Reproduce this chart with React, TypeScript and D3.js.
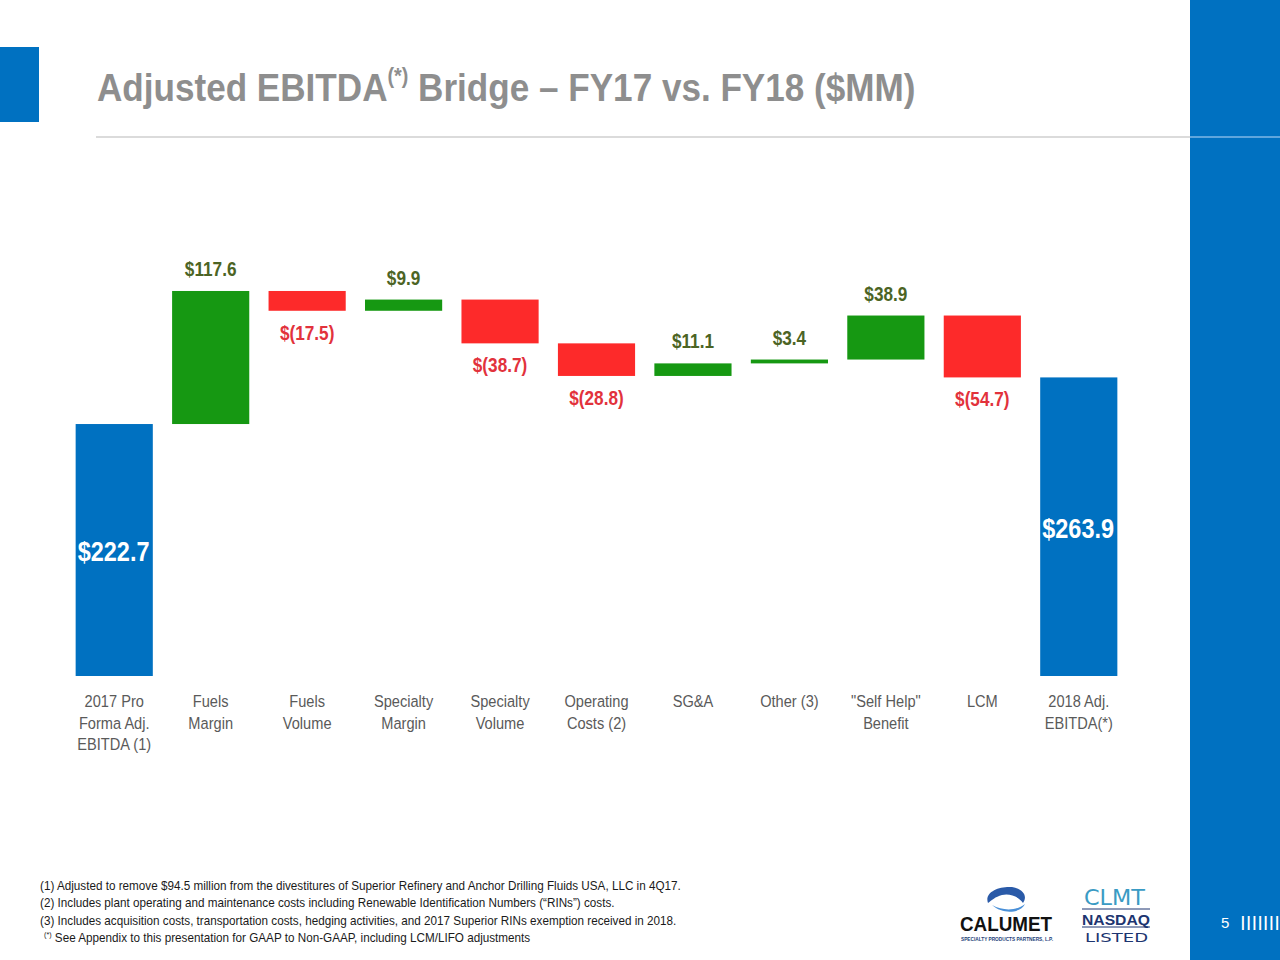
import React from "react";
import * as d3 from "d3";

const categories = [
  ["2017 Pro", "Forma Adj.", "EBITDA (1)"],
  ["Fuels", "Margin"],
  ["Fuels", "Volume"],
  ["Specialty", "Margin"],
  ["Specialty", "Volume"],
  ["Operating", "Costs (2)"],
  ["SG&A"],
  ["Other (3)"],
  ["\"Self Help\"", "Benefit"],
  ["LCM"],
  ["2018 Adj.", "EBITDA(*)"],
];
const values = [222.7, 117.6, -17.5, 9.9, -38.7, -28.8, 11.1, 3.4, 38.9, -54.7, 263.9];
const kinds = ["total", "delta", "delta", "delta", "delta", "delta", "delta", "delta", "delta", "delta", "total"];
const valueLabels = ["$222.7", "$117.6", "$(17.5)", "$9.9", "$(38.7)", "$(28.8)", "$11.1", "$3.4", "$38.9", "$(54.7)", "$263.9"];
const footnotes = [
  "(1)  Adjusted to remove $94.5 million from the divestitures of Superior Refinery and Anchor Drilling Fluids USA, LLC in 4Q17.",
  "(2)  Includes plant operating and maintenance costs including Renewable Identification Numbers (\u201cRINs\u201d) costs.",
  "(3)  Includes acquisition costs, transportation costs, hedging activities, and  2017 Superior RINs exemption received in 2018.",
];

const FONT = "'Liberation Sans', Arial, sans-serif";
const GREEN = "#169812";
const RED = "#fd2a2a";
const BLUE = "#0071c1";
const GREEN_TXT = "#4c6424";
const RED_TXT = "#e2323c";

type NProps = {
  x: number;
  y: number;
  sx: number;
  anchor?: "start" | "middle" | "end";
  size: number;
  weight?: string;
  fill: string;
  children: React.ReactNode;
};
function NText({ x, y, sx, anchor = "start", size, weight = "normal", fill, children }: NProps) {
  return (
    <text
      transform={`translate(${x},${y}) scale(${sx},1)`}
      textAnchor={anchor}
      fontFamily={FONT}
      fontSize={size}
      fontWeight={weight}
      fill={fill}
    >
      {children}
    </text>
  );
}

export default function App() {
  const ids = categories.map((_, i) => String(i));
  const x = d3.scaleBand<string>().domain(ids).range([66, 1127]).paddingInner(0.2).paddingOuter(0.1);
  const y = d3.scaleLinear().domain([0, 350]).range([676, 280]);

  let running = 0;
  const segs = values.map((v, i) => {
    if (kinds[i] === "total") {
      running = v;
      return { y0: 0, y1: v, v, i };
    }
    const start = running;
    running = running + v;
    return { y0: Math.min(start, running), y1: Math.max(start, running), v, i };
  });

  return (
    <div style={{ position: "absolute", left: 0, top: 0, width: 1280, height: 960, background: "#fff" }}>
      <svg width={1280} height={960} style={{ display: "block" }}>
        <rect x={0} y={0} width={1280} height={960} fill="#fff" />
        <rect x={0} y={47} width={39} height={75} fill={BLUE} />
        <rect x={1190} y={0} width={90} height={960} fill={BLUE} />
        <line x1={1190} x2={1280} y1={137} y2={137} stroke="#7fb8e6" strokeWidth={1.5} />
        {/* title */}
        <NText x={97} y={101} sx={0.9} size={39} weight="bold" fill="#8e8e8e">
          Adjusted EBITDA
          <tspan fontSize={22} dy={-18}>(*)</tspan>
          <tspan dy={18}> Bridge – FY17 vs. FY18 ($MM)</tspan>
        </NText>
        <line x1={96} x2={1190} y1={137} y2={137} stroke="#cfcfcf" strokeWidth={1.5} />

        {segs.map((s) => {
          const isTotal = kinds[s.i] === "total";
          const fill = isTotal ? BLUE : s.v >= 0 ? GREEN : RED;
          return (
            <rect
              key={"b" + s.i}
              x={x(String(s.i))}
              y={y(s.y1)}
              width={x.bandwidth()}
              height={Math.max(1, y(s.y0) - y(s.y1))}
              fill={fill}
            />
          );
        })}

        {segs.map((s) => {
          const isTotal = kinds[s.i] === "total";
          const bx = x(String(s.i))!;
          const cx = bx + x.bandwidth() / 2;
          if (isTotal) {
            const ly = s.i === 0 ? 561 : 538;
            return (
              <NText key={"l" + s.i} x={bx + 2} y={ly} sx={0.84} size={28} weight="bold" fill="#fff">
                {valueLabels[s.i]}
              </NText>
            );
          }
          if (s.v >= 0) {
            return (
              <NText key={"l" + s.i} x={cx} y={y(s.y1) - 15} sx={0.86} anchor="middle" size={20} weight="bold" fill={GREEN_TXT}>
                {valueLabels[s.i]}
              </NText>
            );
          }
          return (
            <NText key={"l" + s.i} x={cx} y={y(s.y0) + 29} sx={0.86} anchor="middle" size={20} weight="bold" fill={RED_TXT}>
              {valueLabels[s.i]}
            </NText>
          );
        })}

        {categories.map((lines, i) => {
          const cx = x(String(i))! + x.bandwidth() / 2;
          return (
            <g key={"c" + i}>
              {lines.map((t, j) => (
                <NText key={j} x={cx} y={707 + j * 21.5} sx={0.86} anchor="middle" size={17} fill="#5a5a5a">
                  {t}
                </NText>
              ))}
            </g>
          );
        })}

        {footnotes.map((t, i) => (
          <NText key={"f" + i} x={40} y={890 + i * 17.3} sx={0.9} size={13} fill="#1a1a1a">
            {t}
          </NText>
        ))}
        <NText x={44} y={942} sx={0.9} size={13} fill="#1a1a1a">
          <tspan fontSize={8} dy={-5}>(*)</tspan>
          <tspan dy={5}>  See Appendix to this presentation for GAAP to Non-GAAP, including LCM/LIFO adjustments</tspan>
        </NText>

        {/* Calumet logo */}
        <g>
          <path d="M988,903 C984,892 999,886 1012,887 C1023,889 1028,896 1023,903 C1019,897 1010,893 1002,895 C995,897 992,900 988,903 Z" fill="#2a5aa8" />
          <path d="M992,905 C1003,911 1016,911 1025,904 C1021,913 1003,915 992,905 Z" fill="#4a90d8" />
          <text x={960} y={931} fontFamily={FONT} fontWeight="bold" fontSize={20} fill="#111" textLength={92} lengthAdjust="spacingAndGlyphs">
            CALUMET
          </text>
          <text x={961} y={941} fontFamily={FONT} fontWeight="bold" fontSize={5} fill="#1d3f7a" textLength={92} lengthAdjust="spacingAndGlyphs">
            SPECIALTY PRODUCTS PARTNERS, L.P.
          </text>
        </g>
        <g>
          <text x={1084} y={905} fontFamily="'DejaVu Sans', sans-serif" fontSize={21} fill="#3a9bc4" textLength={61} lengthAdjust="spacingAndGlyphs">
            CLMT
          </text>
          <line x1={1082} x2={1150} y1={909} y2={909} stroke="#1d3570" strokeWidth={1} />
          <text x={1082} y={925} fontFamily={FONT} fontWeight="bold" fontSize={15} fill="#1d3570" textLength={68} lengthAdjust="spacingAndGlyphs">
            NASDAQ
          </text>
          <line x1={1082} x2={1150} y1={927} y2={927} stroke="#1d3570" strokeWidth={1} />
          <text x={1085} y={942} fontFamily="'DejaVu Sans', sans-serif" fontSize={13} fill="#1d3570" textLength={63} lengthAdjust="spacingAndGlyphs">
            LISTED
          </text>
        </g>
        <text x={1221} y={928} fontFamily={FONT} fontSize={15} fill="#fff">
          5
        </text>
        <text x={1240} y={927} fontFamily={FONT} fontSize={14} fill="#fff" textLength={40} lengthAdjust="spacingAndGlyphs">
          |||||||
        </text>
      </svg>
    </div>
  );
}
